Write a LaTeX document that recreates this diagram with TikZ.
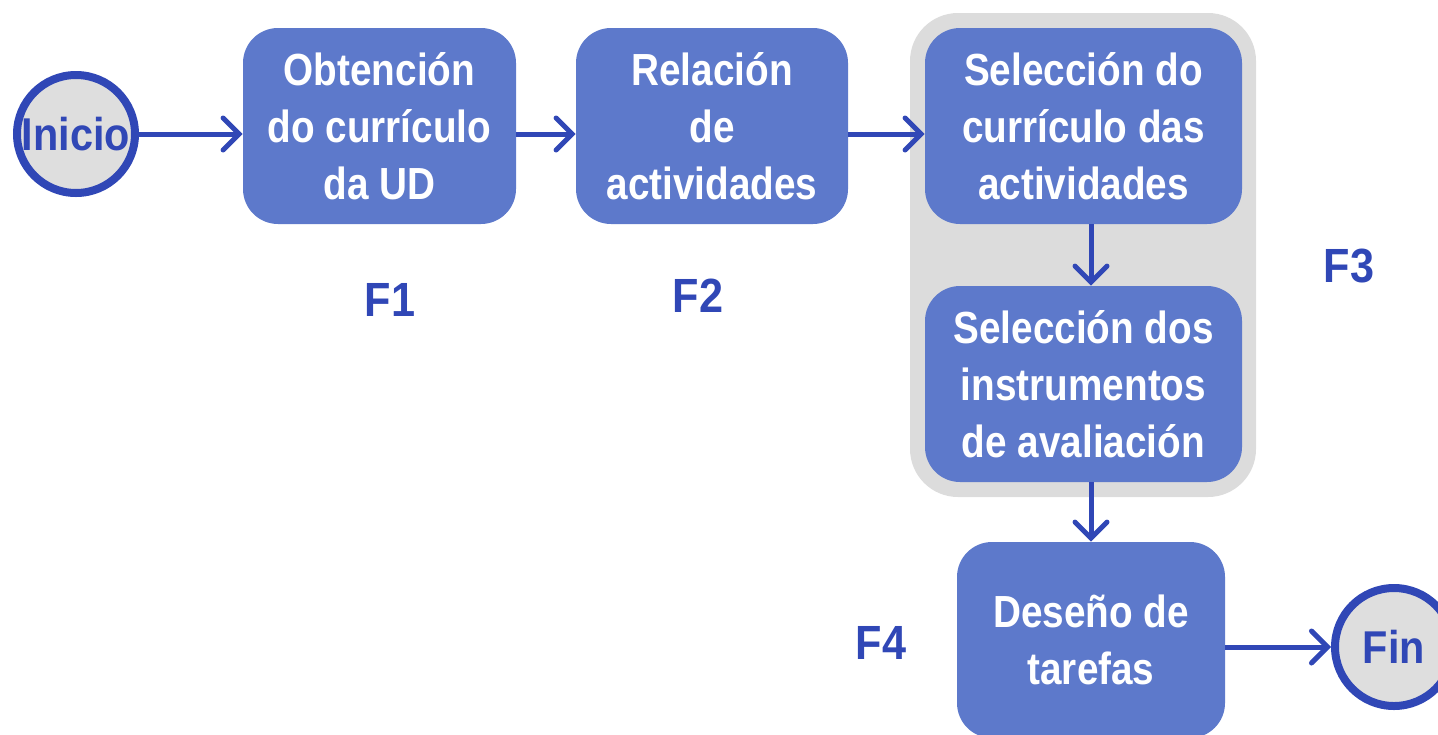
\documentclass[tikz,border=0pt]{standalone}
\usepackage{fontspec}
\setmainfont{Liberation Sans}
\newfontfamily\narrowfont{Liberation Sans}[FakeStretch=0.86]
\newfontfamily\tagfont{Liberation Sans}[FakeStretch=0.9]
\usetikzlibrary{arrows.meta}
\definecolor{boxblue}{HTML}{5D79CB}
\definecolor{lineblue}{HTML}{3047B6}
\definecolor{groupgray}{HTML}{DCDCDC}
\definecolor{circlegray}{HTML}{DEDEDE}

\begin{document}
\begin{tikzpicture}[x=0.5pt, y=-0.5pt,
  phase/.style={fill=boxblue, rounded corners=17.5pt, text=white, align=center,
    font=\narrowfont\bfseries\fontsize{22.5}{28.5}\selectfont,
    minimum height=98pt, inner sep=0pt},
  terminal/.style={circle, draw=lineblue, line width=4pt, fill=circlegray,
    minimum size=59pt, inner sep=0pt, text=lineblue,
    font=\tagfont\bfseries\fontsize{23}{26}\selectfont},
  flow/.style={draw=lineblue, line width=2.5pt,
    -{Straight Barb[length=8pt, width=16pt, line cap=round]}},
  tag/.style={text=lineblue, font=\tagfont\bfseries\fontsize{24}{26}\selectfont}]
\useasboundingbox (0,0) rectangle (1438,734);
\fill[groupgray, rounded corners=24pt] (910,13) rectangle (1256,497);

\node[terminal] (inicio) at (76,134) {Inicio};
\node[phase, minimum width=136.5pt] (obtencion) at (379.5,126) {Obtención\\do currículo\\da UD};
\node[phase, minimum width=136pt] (relacion) at (712,126) {Relación\\de\\actividades};
\node[phase, minimum width=158.5pt] (selcurr) at (1083.5,126) {Selección do\\currículo das\\actividades};
\node[phase, minimum width=158.5pt] (selinst) at (1083.5,384) {Selección dos\\instrumentos\\de avaliación};
\node[phase, minimum width=134pt] (desenho) at (1091,640) {Deseño de\\tarefas};
\node[terminal] (fin) at (1394,647) {Fin};

\node[tag] (f1) at (390,300) {F1};
\node[tag] (f2) at (698,296) {F2};
\node[tag] (f3) at (1349,266) {F3};
\node[tag] (f4) at (881,643) {F4};

\draw[flow] (inicio) -- (obtencion.west |- inicio);
\draw[flow] (obtencion.east |- inicio) -- (relacion.west |- inicio);
\draw[flow] (relacion.east |- inicio) -- (selcurr.west |- inicio);
\draw[flow] (selcurr.south -| desenho) -- (selinst.north -| desenho);
\draw[flow] (selinst.south -| desenho) -- (desenho.north);
\draw[flow] (desenho.east |- fin) -- (fin);
\end{tikzpicture}
\end{document}
